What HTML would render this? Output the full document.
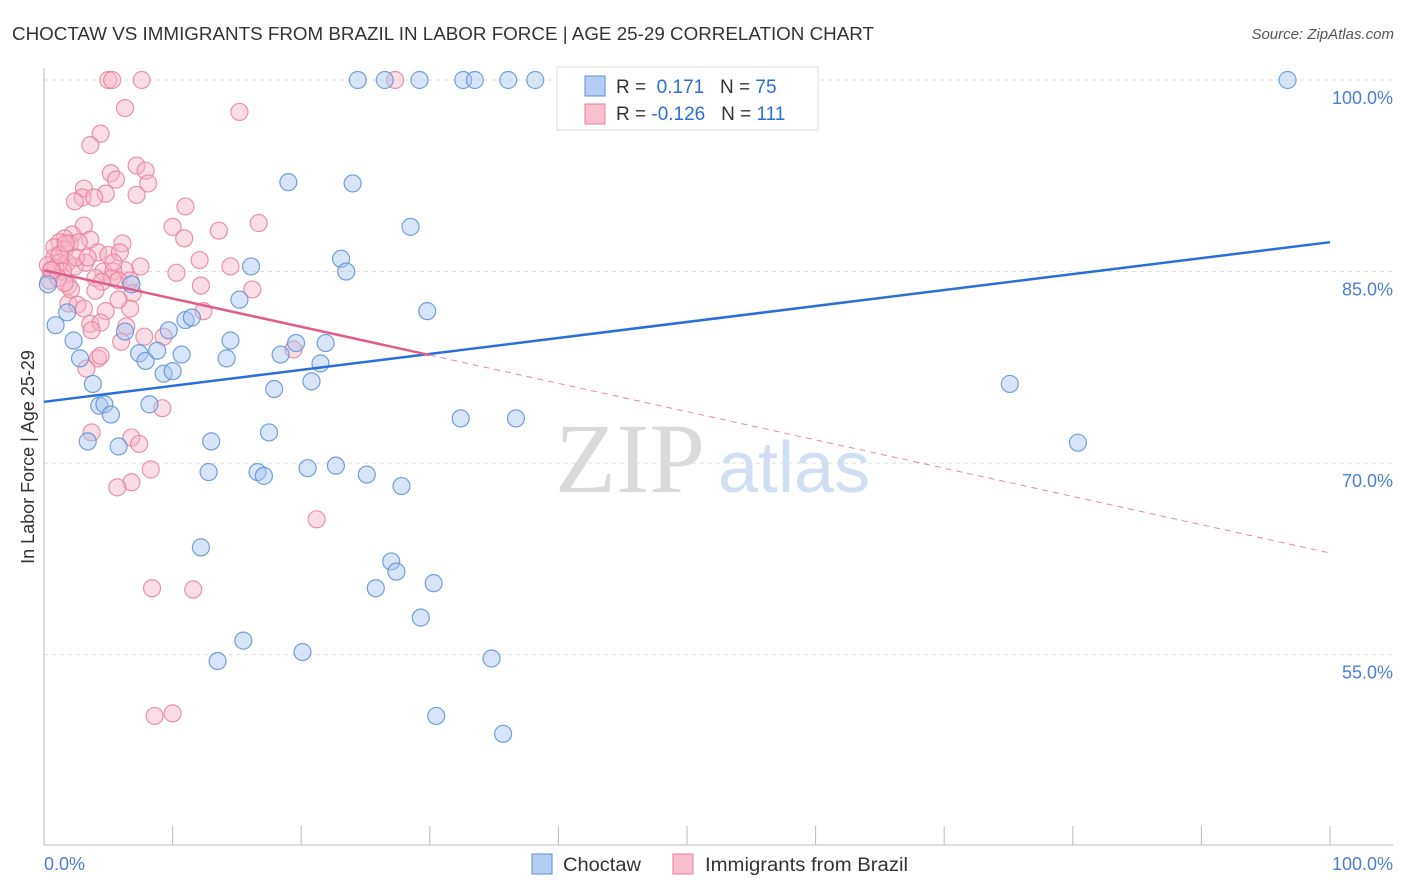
<!DOCTYPE html>
<html><head><meta charset="utf-8">
<style>
body{margin:0;background:#fff;font-family:"Liberation Sans",sans-serif;}
#wrap{position:relative;width:1406px;height:892px;overflow:hidden;}
</style></head>
<body>
<div id="wrap">
<svg id="svg" width="1406" height="892">
<text x="12" y="40" font-size="18" fill="#333" textLength="862" lengthAdjust="spacingAndGlyphs">CHOCTAW VS IMMIGRANTS FROM BRAZIL IN LABOR FORCE | AGE 25-29 CORRELATION CHART</text>
<text x="1394" y="39" font-size="15" fill="#555" font-style="italic" text-anchor="end">Source: ZipAtlas.com</text>
<text x="555" y="492" font-size="100" fill="#dadada" font-family="Liberation Serif,serif">ZIP</text>
<text x="718" y="492" font-size="72" fill="#d0dff3">atlas</text>
<g id="grid"></g>
<g id="axes"></g>
<g id="pink"></g>
<g id="blue"></g>
<g id="lines"></g>
<text transform="translate(34,457) rotate(-90)" font-size="18" fill="#333" text-anchor="middle">In Labor Force | Age 25-29</text>
<g>
<rect x="557" y="67" width="261" height="63" fill="#fff" stroke="#ddd"/>
<rect x="585" y="76" width="20" height="20" fill="#b3cdf3" stroke="#5b8fd9"/>
<rect x="585" y="104" width="20" height="20" fill="#f9c0d0" stroke="#e8809c"/>
<text x="616" y="93" font-size="19" fill="#333">R = <tspan fill="#2a6fd6">&#160;0.171</tspan>&#160;&#160;&#160;N = <tspan fill="#2a6fd6">75</tspan></text>
<text x="616" y="120" font-size="19" fill="#333">R = <tspan fill="#2a6fd6">-0.126</tspan>&#160;&#160;&#160;N = <tspan fill="#2a6fd6">111</tspan></text>
</g>
<g>
<rect x="532" y="854" width="20" height="20" fill="#b3cdf3" stroke="#5b8fd9"/>
<text x="563" y="871" font-size="19" fill="#333" textLength="78" lengthAdjust="spacingAndGlyphs">Choctaw</text>
<rect x="673" y="854" width="20" height="20" fill="#f9c0d0" stroke="#e8809c"/>
<text x="705" y="871" font-size="19" fill="#333" textLength="203" lengthAdjust="spacingAndGlyphs">Immigrants from Brazil</text>
</g>
</svg>
</div>
<script>
const yTicks=[100,85,70,55];
const yTickLabels=["100.0%","85.0%","70.0%","55.0%"];
const xTickVals=[0,10,20,30,40,50,60,70,80,90,100];
const xEndLabels=["0.0%","100.0%"];
const blueX=[24.4,26.5,29.2,32.6,33.5,36.1,38.2,45.6,96.7,19.0,24.0,28.5,23.1,23.5,16.1,15.2,29.8,6.8,0.9,1.8,2.3,2.8,3.8,4.3,4.7,5.2,3.4,5.8,6.3,7.4,7.9,8.8,8.2,9.3,10.0,9.7,11.0,11.5,10.7,14.5,14.2,13.0,12.8,17.9,17.5,16.6,17.1,18.4,19.6,21.9,21.5,20.8,20.5,22.7,25.1,27.8,32.4,36.7,75.1,80.4,12.2,13.5,15.5,20.1,25.8,27.0,27.4,30.3,29.3,30.5,34.8,35.7,0.3];
const blueY=[100,100,100,100,100,100,100,100,100,92.0,91.9,88.5,86.0,85.0,85.4,82.8,81.9,84.0,80.8,81.8,79.6,78.2,76.2,74.5,74.6,73.8,71.7,71.3,80.3,78.6,78.0,78.8,74.6,77.0,77.2,80.4,81.2,81.4,78.5,79.6,78.2,71.7,69.3,75.8,72.4,69.3,69.0,78.5,79.4,79.4,77.8,76.4,69.6,69.8,69.1,68.2,73.5,73.5,76.2,71.6,63.4,54.5,56.1,55.2,60.2,62.3,61.5,60.6,57.9,50.2,54.7,48.8,84.0];
const pinkX=[5.0,5.3,7.6,27.3,6.3,15.2,4.4,3.6,7.2,7.9,5.2,5.6,8.1,3.1,4.8,3.0,2.4,7.2,3.9,11.0,16.7,13.6,10.0,10.9,3.1,2.2,1.6,1.2,2.0,0.8,6.1,3.6,2.7,1.6,4.2,5.0,0.8,1.2,1.8,2.4,0.5,0.9,1.5,3.2,5.9,6.3,4.6,5.4,10.3,14.5,12.1,0.4,1.9,4.0,5.3,5.8,6.7,4.5,6.9,12.2,16.2,1.9,2.6,3.1,4.8,6.7,12.4,3.6,4.4,3.7,6.4,7.8,9.3,6.0,4.2,4.4,19.4,3.3,3.7,6.8,7.4,9.2,8.3,6.8,5.7,21.2,8.4,11.6,8.6,10.0,2.1,1.1,1.6,0.3,1.2,2.5,3.4,1.7,0.6,5.4,4.0,5.8,7.5];
const pinkY=[100,100,100,100,97.8,97.5,95.8,94.9,93.3,92.9,92.7,92.2,91.9,91.5,91.1,90.8,90.5,91.0,90.8,90.1,88.8,88.2,88.5,87.6,88.6,87.9,87.6,87.3,87.2,86.9,87.2,87.5,87.3,86.7,86.5,86.3,86.1,85.7,85.7,85.4,85.1,85.3,85.0,85.7,86.5,85.1,85.0,85.0,84.9,85.4,85.9,84.3,83.9,84.5,84.5,84.3,84.3,84.2,83.3,83.9,83.6,82.5,82.4,82.1,81.9,82.1,81.9,80.9,81.0,80.4,80.7,79.9,79.9,79.5,78.2,78.4,78.9,77.4,72.4,72.0,71.5,74.3,69.5,68.5,68.1,65.6,60.2,60.1,50.2,50.4,83.6,84.5,84.1,85.5,86.3,86.1,86.1,87.2,85.1,85.7,83.5,82.8,85.4];
const blueTrend=[74.8,87.3];
const pinkTrend=[85.1,62.96];
const pinkSolidEnd=30;

const NS="http://www.w3.org/2000/svg";
const X0=44,X1=1330,Y100=80,PXPER=12.77;
function sx(v){return X0+(X1-X0)*v/100;}
function sy(v){return Y100+(100-v)*PXPER;}
function mk(tag,attrs,parent){const e=document.createElementNS(NS,tag);for(const k in attrs)e.setAttribute(k,attrs[k]);parent.appendChild(e);return e;}
const grid=document.getElementById('grid'),axes=document.getElementById('axes');
yTicks.forEach((t,i)=>{
  const l=mk('line',{x1:44,x2:1393,y1:sy(t),y2:sy(t),stroke:'#ddd','stroke-dasharray':'4,4'},grid);
  
  
  const tx=mk('text',{x:1393,y:sy(t)+24,'font-size':18,fill:'#4a7fd4','text-anchor':'end'},axes);
  tx.textContent=yTickLabels[i];
  
  
});
const ax=mk('line',{x1:44,x2:44,y1:68,y2:845,stroke:'#bbb'},axes);


const bx=mk('line',{x1:44,x2:1393,y1:845,y2:845,stroke:'#bbb'},axes);


xTickVals.forEach(v=>{
  const t=mk('line',{x1:sx(v),x2:sx(v),y1:826,y2:845,stroke:'#bbb'},axes);
  
  
});
[[0,'start',44],[100,'end',1393]].forEach((a,i)=>{
  const t=mk('text',{x:a[2],y:870,'font-size':18,fill:'#4a7fd4','text-anchor':a[1]},axes);
  t.textContent=xEndLabels[i];
  
  
});
function dots(xs,ys,g,fill,stroke,name){
  xs.forEach((x,i)=>{
    const c=mk('circle',{cx:sx(x),cy:sy(ys[i]),r:8.5,fill:fill,'fill-opacity':0.45,stroke:stroke,'stroke-width':1.2,'stroke-opacity':0.85},g);
    
    
  });
}
dots(pinkX,pinkY,document.getElementById('pink'),'#f7b3c6','#e8809c','brazil-point');
dots(blueX,blueY,document.getElementById('blue'),'#a8c6f0','#5b8fd9','choctaw-point');
const lg=document.getElementById('lines');
const bl=mk('line',{x1:sx(0),y1:sy(blueTrend[0]),x2:sx(100),y2:sy(blueTrend[1]),stroke:'#2a6fd6','stroke-width':2.5},lg);


const pm=pinkTrend[0]+(pinkTrend[1]-pinkTrend[0])*pinkSolidEnd/100;
const pl=mk('line',{x1:sx(0),y1:sy(pinkTrend[0]),x2:sx(pinkSolidEnd),y2:sy(pm),stroke:'#e05c8a','stroke-width':2.5},lg);


const pd=mk('line',{x1:sx(pinkSolidEnd),y1:sy(pm),x2:sx(100),y2:sy(pinkTrend[1]),stroke:'#e58aa8','stroke-width':1,'stroke-dasharray':'6,5'},lg);


</script>
</body></html>
